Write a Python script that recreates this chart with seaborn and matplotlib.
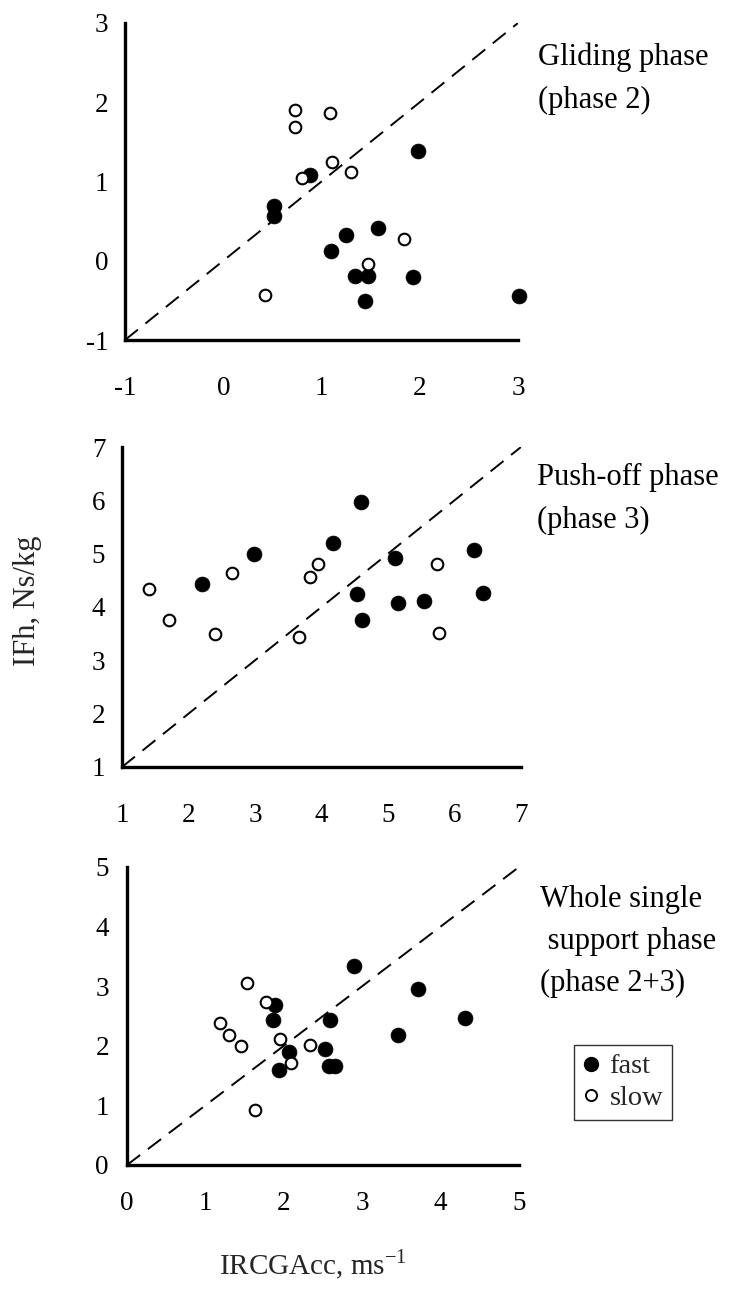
import matplotlib
matplotlib.use("Agg")
import matplotlib.pyplot as plt
from matplotlib.lines import Line2D
import seaborn as sns
import pandas as pd

# Phase 2 (gliding): IRCGAcc vs IFh
glide_fast_x = [0.88, 1.98, 0.515, 0.515, 1.25, 1.57, 1.10, 1.34, 1.475, 1.93, 1.44, 3.01]
glide_fast_y = [1.08, 1.39, 0.69, 0.57, 0.33, 0.41, 0.12, -0.19, -0.19, -0.21, -0.51, -0.44]
glide_slow_x = [0.73, 0.73, 1.085, 1.105, 0.80, 1.30, 1.84, 1.475, 0.43]
glide_slow_y = [1.90, 1.69, 1.87, 1.25, 1.04, 1.12, 0.27, -0.04, -0.43]

# Phase 3 (push-off)
push_fast_x = [4.59, 4.18, 2.99, 2.20, 5.11, 6.30, 4.54, 6.43, 5.15, 5.54, 4.61]
push_fast_y = [5.96, 5.20, 5.00, 4.44, 4.92, 5.06, 4.24, 4.26, 4.08, 4.12, 3.76]
push_slow_x = [1.40, 1.71, 2.40, 2.65, 3.94, 3.82, 3.66, 5.73, 5.76]
push_slow_y = [4.33, 3.75, 3.49, 4.64, 4.80, 4.57, 3.44, 4.80, 3.52]

# Phase 2+3 (whole single support)
whole_fast_x = [2.90, 3.71, 4.31, 3.46, 2.59, 1.89, 1.86, 2.06, 1.94, 2.53, 2.58, 2.65]
whole_fast_y = [3.34, 2.96, 2.46, 2.18, 2.44, 2.68, 2.43, 1.89, 1.59, 1.95, 1.66, 1.66]
whole_slow_x = [1.53, 1.77, 1.18, 1.30, 1.46, 1.95, 2.34, 2.09, 1.63]
whole_slow_y = [3.05, 2.74, 2.38, 2.18, 2.00, 2.11, 2.02, 1.71, 0.93]

glide_ticks = [-1, 0, 1, 2, 3]
push_ticks = [1, 2, 3, 4, 5, 6, 7]
whole_ticks = [0, 1, 2, 3, 4, 5]

panel_labels = [
    ["Gliding phase", "(phase 2)"],
    ["Push-off phase", "(phase 3)"],
    ["Whole single", " support phase", "(phase 2+3)"],
]
group_names = ["fast", "slow"]

sns.set_theme(style="white")
plt.rcParams["font.family"] = ["Liberation Serif", "DejaVu Serif"]
plt.rcParams["axes.unicode_minus"] = False

W, H = 736, 1294
fig = plt.figure(figsize=(W / 100, H / 100), dpi=100)


def box(l, t, r, b):
    return [l / W, 1 - b / H, (r - l) / W, (b - t) / H]


panels = [
    dict(rect=box(125, 23, 518, 340), ticks=glide_ticks,
         fx=glide_fast_x, fy=glide_fast_y, sx=glide_slow_x, sy=glide_slow_y,
         xpad=26, ypad=12, text_x=538, text_y=[57, 100]),
    dict(rect=box(122, 447, 521, 767), ticks=push_ticks,
         fx=push_fast_x, fy=push_fast_y, sx=push_slow_x, sy=push_slow_y,
         xpad=26, ypad=12, text_x=537, text_y=[477, 520]),
    dict(rect=box(127, 867, 519, 1165), ticks=whole_ticks,
         fx=whole_fast_x, fy=whole_fast_y, sx=whole_slow_x, sy=whole_slow_y,
         xpad=19, ypad=13, text_x=540, text_y=[900, 941, 983]),
]

for i, p in enumerate(panels):
    ax = fig.add_axes(p["rect"])
    lo, hi = p["ticks"][0], p["ticks"][-1]
    # line of identity
    ax.plot([lo, hi], [lo, hi], color="black", lw=1.4, ls=(0, (8.5, 5)), zorder=1)
    fast = pd.DataFrame({"x": p["fx"], "y": p["fy"]})
    slow = pd.DataFrame({"x": p["sx"], "y": p["sy"]})
    sns.scatterplot(data=fast, x="x", y="y", ax=ax, color="black",
                    edgecolor="black", s=115, linewidth=0.5, zorder=3,
                    clip_on=False)
    sns.scatterplot(data=slow, x="x", y="y", ax=ax, color="white",
                    edgecolor="black", s=70, linewidth=1.5, zorder=4,
                    clip_on=False)
    ax.set_xlim(lo, hi)
    ax.set_ylim(lo, hi)
    ax.set_xticks(p["ticks"])
    ax.set_yticks(p["ticks"])
    ax.set_xlabel("")
    ax.set_ylabel("")
    for side in ("top", "right"):
        ax.spines[side].set_visible(False)
    for side in ("left", "bottom"):
        ax.spines[side].set_linewidth(2.4)
        ax.spines[side].set_color("black")
    ax.tick_params(axis="both", direction="in", length=7, width=2.2,
                   colors="black", labelsize=19.5)
    ax.tick_params(axis="x", pad=p["xpad"])
    ax.tick_params(axis="y", pad=p["ypad"])
    ax.set_facecolor("none")
    for line, ty in zip(panel_labels[i], p["text_y"]):
        fig.text(p["text_x"] / W, 1 - ty / H, line, ha="left", va="center",
                 fontsize=22, color="black")

fig.text(27 / W, 1 - 601 / H, "IFh, Ns/kg", rotation=90, ha="center",
         va="center", fontsize=22)
fig.text(313 / W, 1 - 1265 / H, "IRCGAcc, ms$^{\\mathregular{-1}}$",
         ha="center", va="center", fontsize=21)

handles = [
    Line2D([], [], marker="o", ls="none", markerfacecolor="black",
           markeredgecolor="black", markersize=10),
    Line2D([], [], marker="o", ls="none", markerfacecolor="white",
           markeredgecolor="black", markersize=8, markeredgewidth=1.4),
]
leg = fig.legend(handles, group_names, loc="upper left",
                 bbox_to_anchor=(574 / W, 1 - 1045 / H), fontsize=20.5,
                 frameon=True, fancybox=False, edgecolor="black",
                 handlelength=0.6, handletextpad=0.35, borderpad=0.3,
                 labelspacing=0.2, borderaxespad=0)
leg.get_frame().set_linewidth(1.0)

fig.savefig("out.png", dpi=100, facecolor="white")
